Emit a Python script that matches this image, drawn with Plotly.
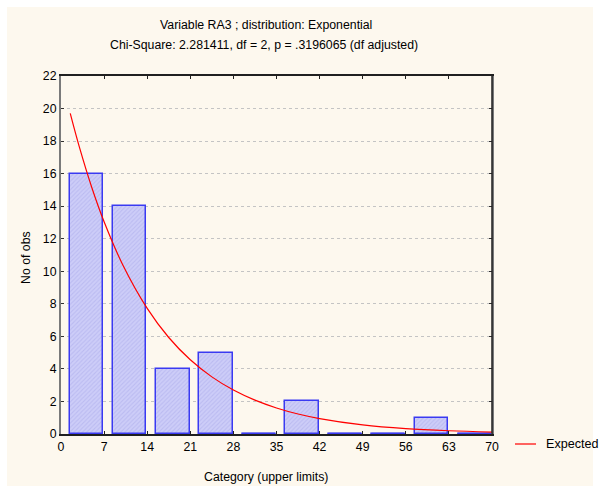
import plotly.graph_objects as go

# ---- data ----
upper_limits = [7, 14, 21, 28, 35, 42, 49, 56, 63, 70]
observed = [16, 14, 4, 5, 0, 2, 0, 0, 1, 0]
expected_x = [1.5, 3, 5, 7, 10, 14, 17.5, 21, 24.5, 28, 31.5, 35, 38.5, 42, 49, 56, 63, 70]
expected_y = [19.70, 17.61, 15.15, 13.04, 10.42, 7.72, 5.93, 4.56, 3.51, 2.70,
              2.08, 1.60, 1.23, 0.95, 0.56, 0.33, 0.20, 0.12]
x_ticks = [0, 7, 14, 21, 28, 35, 42, 49, 56, 63, 70]
y_ticks = list(range(0, 23, 2))

title1 = "Variable RA3 ; distribution: Exponential"
title2 = "Chi-Square: 2.281411, df = 2, p = .3196065 (df adjusted)"
x_title = "Category (upper limits)"
y_title = "No of obs"
legend_label = "Expected"

# ---- layout geometry ----
W, H = 600, 493
L, R, T, B = 61, 108, 76, 59
PW, PH = W - L - R, H - T - B
def px(x): return (x - L) / PW
def py(y): return (H - B - y) / PH

FONT = "Liberation Sans, Arial, sans-serif"
FS = 12.3
BAR_EDGE = "#3a3af2"
CURVE = "#ff0000"
BIN = 7
BAR_START = 1.42
BAR_W = 5.45

centers = [u - BIN / 2 for u in upper_limits]

fig = go.Figure()
fig.add_trace(go.Bar(
    x=centers, y=observed, width=BAR_W, offset=-(BIN / 2 - BAR_START),
    marker=dict(color="#c8c8f6",
                line=dict(color=BAR_EDGE, width=1.5),
                pattern=dict(shape="/", fgcolor="#a9a9ea", bgcolor="#cdcdf8",
                             size=3, solidity=0.35)),
    showlegend=False, hoverinfo="x+y",
))

# zero-count categories drawn as a flat outline on the baseline
zx, zy = [], []
for u, v in zip(upper_limits, observed):
    if v == 0:
        lo = u - BIN
        zx += [lo + BAR_START, lo + BAR_START + BAR_W, None]
        zy += [v, v, None]
fig.add_trace(go.Scatter(x=zx, y=zy, mode="lines",
                         line=dict(color=BAR_EDGE, width=2.5),
                         showlegend=False, hoverinfo="skip", cliponaxis=False))

fig.add_trace(go.Scatter(x=expected_x, y=expected_y, mode="lines",
                         line=dict(color=CURVE, width=1.2, shape="spline"),
                         name=legend_label, showlegend=False))

axis_font = dict(family=FONT, size=FS, color="#000000")
fig.update_layout(
    width=W, height=H,
    margin=dict(l=L, r=R, t=T, b=B, pad=0, autoexpand=False),
    paper_bgcolor="#ffffff", plot_bgcolor="#ffffff",
    font=dict(family=FONT, size=FS, color="#000000"),
    bargap=0,
    xaxis=dict(range=[0, 70], tickvals=x_ticks, ticktext=[str(v) for v in x_ticks],
               showgrid=False, zeroline=False,
               showline=True, linecolor="#202020", linewidth=1.5, mirror="ticks",
               ticks="inside", ticklen=3, tickcolor="#202020", tickfont=axis_font),
    yaxis=dict(range=[0, 22], tickvals=y_ticks, showgrid=True, gridcolor="#c4c4c4",
               griddash="dot", gridwidth=1, zeroline=False,
               showline=True, linecolor="#7a7a7a", linewidth=2, mirror="ticks",
               ticks="inside", ticklen=3, tickcolor="#303030", tickfont=axis_font),
    showlegend=False,
    shapes=[
        dict(type="rect", xref="paper", yref="paper", layer="below",
             x0=px(7), x1=px(593), y0=py(486), y1=py(7),
             fillcolor="#fdf8ee", line=dict(width=0)),
        dict(type="line", xref="paper", yref="paper", x0=1, x1=1, y0=0, y1=1,
             line=dict(color="#202020", width=1.5)),
        # legend sample line
        dict(type="line", xref="paper", yref="paper", x0=px(515), x1=px(536),
             y0=py(444), y1=py(444), line=dict(color=CURVE, width=1.2)),
    ],
    annotations=[
        dict(text=title1, x=px(266), y=py(24.5), xref="paper", yref="paper",
             showarrow=False, xanchor="center", yanchor="middle", font=dict(size=FS)),
        dict(text=title2, x=px(264), y=py(45.5), xref="paper", yref="paper",
             showarrow=False, xanchor="center", yanchor="middle", font=dict(size=FS)),
        dict(text=x_title, x=px(266), y=py(477), xref="paper", yref="paper",
             showarrow=False, xanchor="center", yanchor="middle", font=dict(size=FS)),
        dict(text=y_title, x=px(26), y=py(258), xref="paper", yref="paper",
             showarrow=False, xanchor="center", yanchor="middle", textangle=-90,
             font=dict(size=FS)),
        dict(text=legend_label, x=px(544), y=py(444), xref="paper", yref="paper",
             showarrow=False, xanchor="left", yanchor="middle", font=dict(size=12.6)),
    ],
)

fig.write_html("out.html")
